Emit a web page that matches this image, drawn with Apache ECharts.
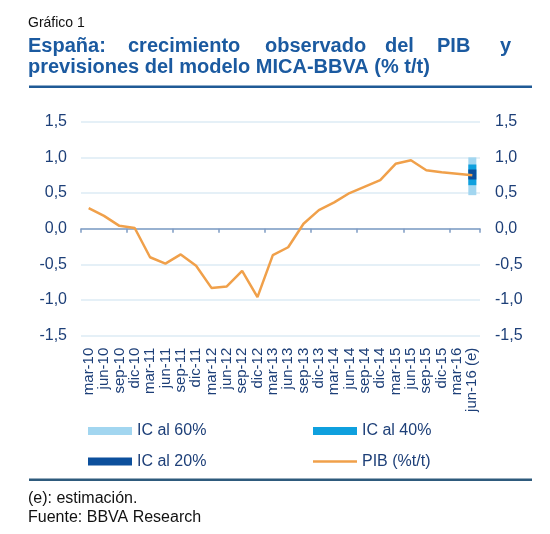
<!DOCTYPE html>
<html><head><meta charset="utf-8">
<script src="https://cdn.jsdelivr.net/npm/echarts@6/dist/echarts.min.js"></script>
<style>html,body{margin:0;padding:0;background:#fff}#c{width:550px;height:534px}</style>
</head><body><div id="c"></div>
<script>
// ---- data ----
const categories = ['mar-10','jun-10','sep-10','dic-10','mar-11','jun-11','sep-11','dic-11','mar-12','jun-12','sep-12','dic-12','mar-13','jun-13','sep-13','dic-13','mar-14','jun-14','sep-14','dic-14','mar-15','jun-15','sep-15','dic-15','mar-16','jun-16 (e)'];
const pib = [0.29, 0.18, 0.04, 0.01, -0.40, -0.49, -0.36, -0.52, -0.83, -0.81, -0.59, -0.96, -0.37, -0.26, 0.07, 0.26, 0.37, 0.50, 0.59, 0.68, 0.91, 0.96, 0.82, 0.79, 0.77, 0.75];
const icCategory = 'jun-16 (e)';
const ic60 = [0.47, 1.00];
const ic40 = [0.61, 0.90];
const ic20 = [0.69, 0.83];
const yMin = -1.5, yMax = 1.5, yStep = 0.5;
const seriesNames = ['IC al 60%', 'IC al 40%', 'IC al 20%', 'PIB (%t/t)'];
const titleSmall = 'Gráfico 1';
const titleWords1 = ['España:', 'crecimiento', 'observado', 'del', 'PIB', 'y'];
const titleLine2 = 'previsiones del modelo MICA-BBVA (% t/t)';
const notes = ['(e): estimación.', 'Fuente: BBVA Research'];

// ---- style ----
const FONT = '"Liberation Sans", Arial, Helvetica, sans-serif';
const NAVY = '#1d3f78';
const TITLE_BLUE = '#1b5aa0';
const colors = {ic60: '#a2d6f0', ic40: '#0fa0de', ic20: '#0c4f9c', pib: '#f0a04a'};

const fmt = v => v.toFixed(1).replace('.', ',');

function band(name, bounds, color, z) {
  return {
    name: name, type: 'custom', xAxisIndex: 0, yAxisIndex: 0, z: z,
    itemStyle: {color: color},
    encode: {x: 0, y: [1, 2]},
    data: [[icCategory, bounds[0], bounds[1]]],
    renderItem: function (params, api) {
      const lo = api.coord([api.value(0), api.value(1)]);
      const hi = api.coord([api.value(0), api.value(2)]);
      const w = 8;
      return {type: 'rect', shape: {x: lo[0] - w / 2, y: hi[1], width: w, height: lo[1] - hi[1]},
              style: {fill: color}};
    }
  };
}

const titleX1 = [28, 128, 265, 385, 437, 500];
const graphics = [
  {type: 'text', left: 28, top: 16, style: {text: titleSmall, font: '14px ' + FONT, fill: '#111'}},
  {type: 'text', left: 28, top: 57, style: {text: titleLine2, font: 'bold 20px ' + FONT, fill: TITLE_BLUE}},
  {type: 'line', shape: {x1: 29, y1: 86.7, x2: 532, y2: 86.7}, style: {stroke: '#1f5a96', lineWidth: 2.5}},
  {type: 'line', shape: {x1: 29, y1: 479.7, x2: 532, y2: 479.7}, style: {stroke: '#2e5a7c', lineWidth: 2.5}},
  {type: 'text', left: 28, top: 491, style: {text: notes[0], font: '16px ' + FONT, fill: '#111'}},
  {type: 'text', left: 28, top: 510, style: {text: notes[1], font: '16px ' + FONT, fill: '#111'}}
];
titleWords1.forEach((w, i) => graphics.push({type: 'text', left: titleX1[i], top: 36,
  style: {text: w, font: 'bold 20px ' + FONT, fill: TITLE_BLUE}}));

const yAxisBase = {
  type: 'value', min: yMin, max: yMax, interval: yStep,
  axisLine: {show: false}, axisTick: {show: false},
  axisLabel: {formatter: fmt, color: NAVY, fontSize: 16, fontFamily: FONT, margin: 14}
};

const legendText = {color: NAVY, fontSize: 16, fontFamily: FONT, lineHeight: 16};

const option = {
  animation: false,
  backgroundColor: '#fff',
  textStyle: {fontFamily: FONT},
  grid: {left: 81, right: 70, top: 121.7, bottom: 198.3, containLabel: false},
  xAxis: [
    {type: 'category', data: categories, position: 'bottom', boundaryGap: true,
     axisLine: {show: true, onZero: true, lineStyle: {color: '#7f9cc4', width: 1.5}},
     axisTick: {show: true, interval: 2, length: 4, lineStyle: {color: '#7f9cc4', width: 1.5}},
     axisLabel: {show: false}, splitLine: {show: false}},
    {type: 'category', data: categories, position: 'bottom', boundaryGap: true,
     axisLine: {show: false, onZero: false}, axisTick: {show: false}, splitLine: {show: false},
     axisLabel: {interval: 0, rotate: 90, color: NAVY, fontSize: 15, fontFamily: FONT, margin: 12}}
  ],
  yAxis: [
    Object.assign({}, yAxisBase, {position: 'left',
      splitLine: {show: true, lineStyle: {color: '#dcebf5', width: 1.5}}}),
    Object.assign({}, yAxisBase, {position: 'right', splitLine: {show: false},
      axisLabel: Object.assign({}, yAxisBase.axisLabel, {margin: 15})})
  ],
  legend: [
    {data: [{name: seriesNames[0], icon: 'rect'}, {name: seriesNames[2], icon: 'rect'}],
     orient: 'vertical', left: 88, top: 423, padding: 0, itemWidth: 44, itemHeight: 8, itemGap: 14.5,
     selectedMode: false, textStyle: legendText},
    {data: [{name: seriesNames[1], icon: 'rect'}],
     orient: 'vertical', left: 313, top: 423, padding: 0, itemWidth: 44, itemHeight: 8,
     selectedMode: false, textStyle: legendText},
    {data: [{name: seriesNames[3], icon: 'rect'}],
     orient: 'vertical', left: 313, top: 453.5, padding: 0, itemWidth: 44, itemHeight: 2.5,
     selectedMode: false, textStyle: legendText}
  ],
  series: [
    band(seriesNames[0], ic60, colors.ic60, 2),
    band(seriesNames[1], ic40, colors.ic40, 3),
    band(seriesNames[2], ic20, colors.ic20, 4),
    {name: seriesNames[3], type: 'line', data: pib, xAxisIndex: 0, yAxisIndex: 0, z: 5,
     symbol: 'none', showSymbol: false,
     itemStyle: {color: colors.pib},
     lineStyle: {color: colors.pib, width: 2.5}}
  ],
  graphic: graphics
};

const chart = echarts.init(document.getElementById('c'), null, {renderer: 'canvas'});
chart.setOption(option);
</script></body></html>
